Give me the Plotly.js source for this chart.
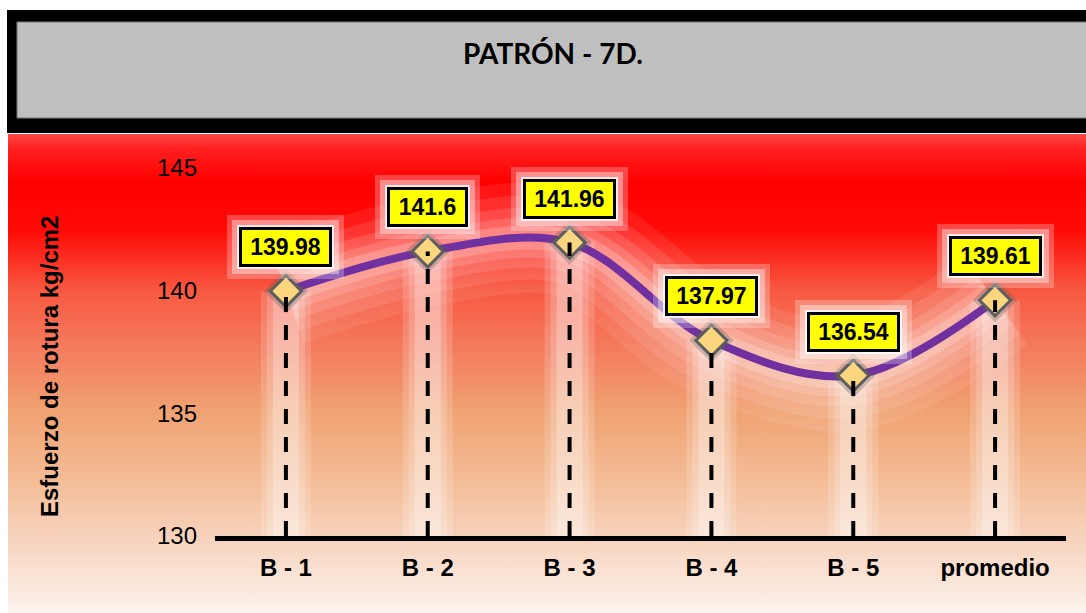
<!DOCTYPE html>
<html><head><meta charset="utf-8">
<script src="https://cdn.plot.ly/plotly-3.0.1.min.js"></script>
<style>
html,body{margin:0;padding:0;background:#fff;}
#wrap{position:relative;width:1086px;height:613px;overflow:hidden;}
#bg{position:absolute;left:8px;top:134px;right:0;bottom:0;
background:linear-gradient(to bottom,#ff4848 0%,#ff2020 3%,#ff0000 10%,#ff0a06 20%,#f75a42 33%,#f47c5e 45%,#f0a272 58%,#f4bc96 72%,#f7d2bb 84%,#fdf3ee 100%);}
#chart{position:absolute;left:0;top:0;width:1086px;height:613px;}
</style></head><body>
<div id="wrap"><div id="bg"></div><div id="chart"></div></div>
<script>
const categories = ['B - 1', 'B - 2', 'B - 3', 'B - 4', 'B - 5', 'promedio'];
const values = [139.98, 141.6, 141.96, 137.97, 136.54, 139.61];
const valueLabels = ['139.98', '141.6', '141.96', '137.97', '136.54', '139.61'];
const yTicks = [130, 135, 140, 145];
const yBase = 130;
const chartTitle = 'PATRÓN - 7D.';
const yTitle = 'Esfuerzo de rotura kg/cm2';

const W = 1086, H = 613;
const M = {l: 215, r: 20, t: 168, b: 77};
const pw = W - M.l - M.r, ph = H - M.t - M.b;
const px = v => (v - M.l) / pw;
const py = v => (H - M.b - v) / ph;

const traces = [];
[[110, 0.08], [84, 0.1], [60, 0.12], [40, 0.15], [24, 0.2]].forEach(([w, a]) => {
  traces.push({x: categories, y: values, type: 'scatter', mode: 'lines',
    line: {shape: 'spline', smoothing: 1, width: w, color: 'rgba(255,255,255,' + a + ')'}, hoverinfo: 'skip'});
});
traces.push({x: categories, y: values, type: 'scatter', mode: 'lines',
  line: {shape: 'spline', smoothing: 1, width: 8, color: '#7030a0'}});
traces.push({x: categories, y: values, type: 'scatter', mode: 'markers',
  marker: {symbol: 'diamond', size: 34, color: 'rgba(90,90,90,0.3)'}, hoverinfo: 'skip'});
traces.push({x: categories, y: values, type: 'scatter', mode: 'markers',
  marker: {symbol: 'diamond', size: 24, color: '#fcd67e', line: {width: 3, color: '#5e5e5e'}}});

const shapes = [];
shapes.push({type: 'rect', xref: 'paper', yref: 'paper', x0: px(7), x1: px(1100), y0: py(133), y1: py(10),
  fillcolor: '#000', line: {width: 0}, layer: 'below'});
shapes.push({type: 'rect', xref: 'paper', yref: 'paper', x0: px(17), x1: px(1100), y0: py(118), y1: py(22),
  fillcolor: '#bfbfbf', line: {width: 1, color: '#7a7a7a'}, layer: 'below'});
categories.forEach((c, i) => {
  [[50, 0.16], [38, 0.18], [26, 0.25]].forEach(([w, a]) => {
    shapes.push({type: 'line', xref: 'x', yref: 'y', x0: c, x1: c, y0: yBase, y1: values[i],
      line: {width: w, color: 'rgba(255,255,255,' + a + ')'}, layer: 'below'});
  });
});
categories.forEach((c, i) => {
  shapes.push({type: 'line', xref: 'x', yref: 'y', x0: c, x1: c, y0: yBase, y1: values[i],
    line: {width: 4, color: '#000', dash: '15px,13px'}, layer: 'above'});
});

const annotations = [];
annotations.push({xref: 'paper', yref: 'paper', x: px(553), y: py(53), xanchor: 'center', yanchor: 'middle',
  text: chartTitle, showarrow: false, font: {family: 'Lato, "Open Sans", sans-serif', size: 28, weight: 'bold', color: '#000'}});
annotations.push({xref: 'paper', yref: 'paper', x: px(49), y: py(367), xanchor: 'center', yanchor: 'middle',
  text: yTitle, textangle: -90, showarrow: false, font: {family: '"Liberation Sans", Arial, sans-serif', size: 24, weight: 'bold', color: '#000'}});
const glowLevels = [[18, 'rgba(255,255,255,0.25)'], [13, 'rgba(255,255,255,0.4)'], [8, 'rgba(255,255,255,0.8)']];
glowLevels.forEach(([pad, col]) => {
  categories.forEach((c, i) => {
    annotations.push({xref: 'x', yref: 'y', x: c, y: values[i], yshift: 44, showarrow: false,
      text: valueLabels[i], width: 12 * valueLabels[i].length + 9, height: 28,
      bgcolor: col, borderpad: pad, borderwidth: 0,
      font: {family: '"Liberation Sans", Arial, sans-serif', size: 23, weight: 'bold', color: 'rgba(0,0,0,0)'}});
  });
});
categories.forEach((c, i) => {
  annotations.push({xref: 'x', yref: 'y', x: c, y: values[i], yshift: 44, showarrow: false,
    text: valueLabels[i], width: 12 * valueLabels[i].length + 9, height: 28,
    bgcolor: '#ffff00', bordercolor: '#000', borderwidth: 3, borderpad: 3,
    font: {family: '"Liberation Sans", Arial, sans-serif', size: 23, weight: 'bold', color: '#000'}});
});

const layout = {
  width: W, height: H, margin: M,
  paper_bgcolor: 'rgba(0,0,0,0)', plot_bgcolor: 'rgba(0,0,0,0)',
  showlegend: false,
  xaxis: {type: 'category', range: [-0.5, 5.5], showgrid: false, zeroline: false,
    showline: true, linecolor: '#000', linewidth: 5, ticks: '', ticklabelstandoff: 6,
    tickfont: {family: '"Liberation Sans", Arial, sans-serif', size: 24, weight: 'bold', color: '#000'}},
  yaxis: {range: [130, 145], tickvals: yTicks, ticktext: yTicks.map(String), showgrid: false, zeroline: false,
    showline: false, ticks: '', ticklabelstandoff: 17,
    tickfont: {family: '"Liberation Sans", Arial, sans-serif', size: 24, color: '#000'}},
  shapes: shapes, annotations: annotations
};
Plotly.newPlot('chart', traces, layout, {displayModeBar: false, staticPlot: true});
</script>
</body></html>
